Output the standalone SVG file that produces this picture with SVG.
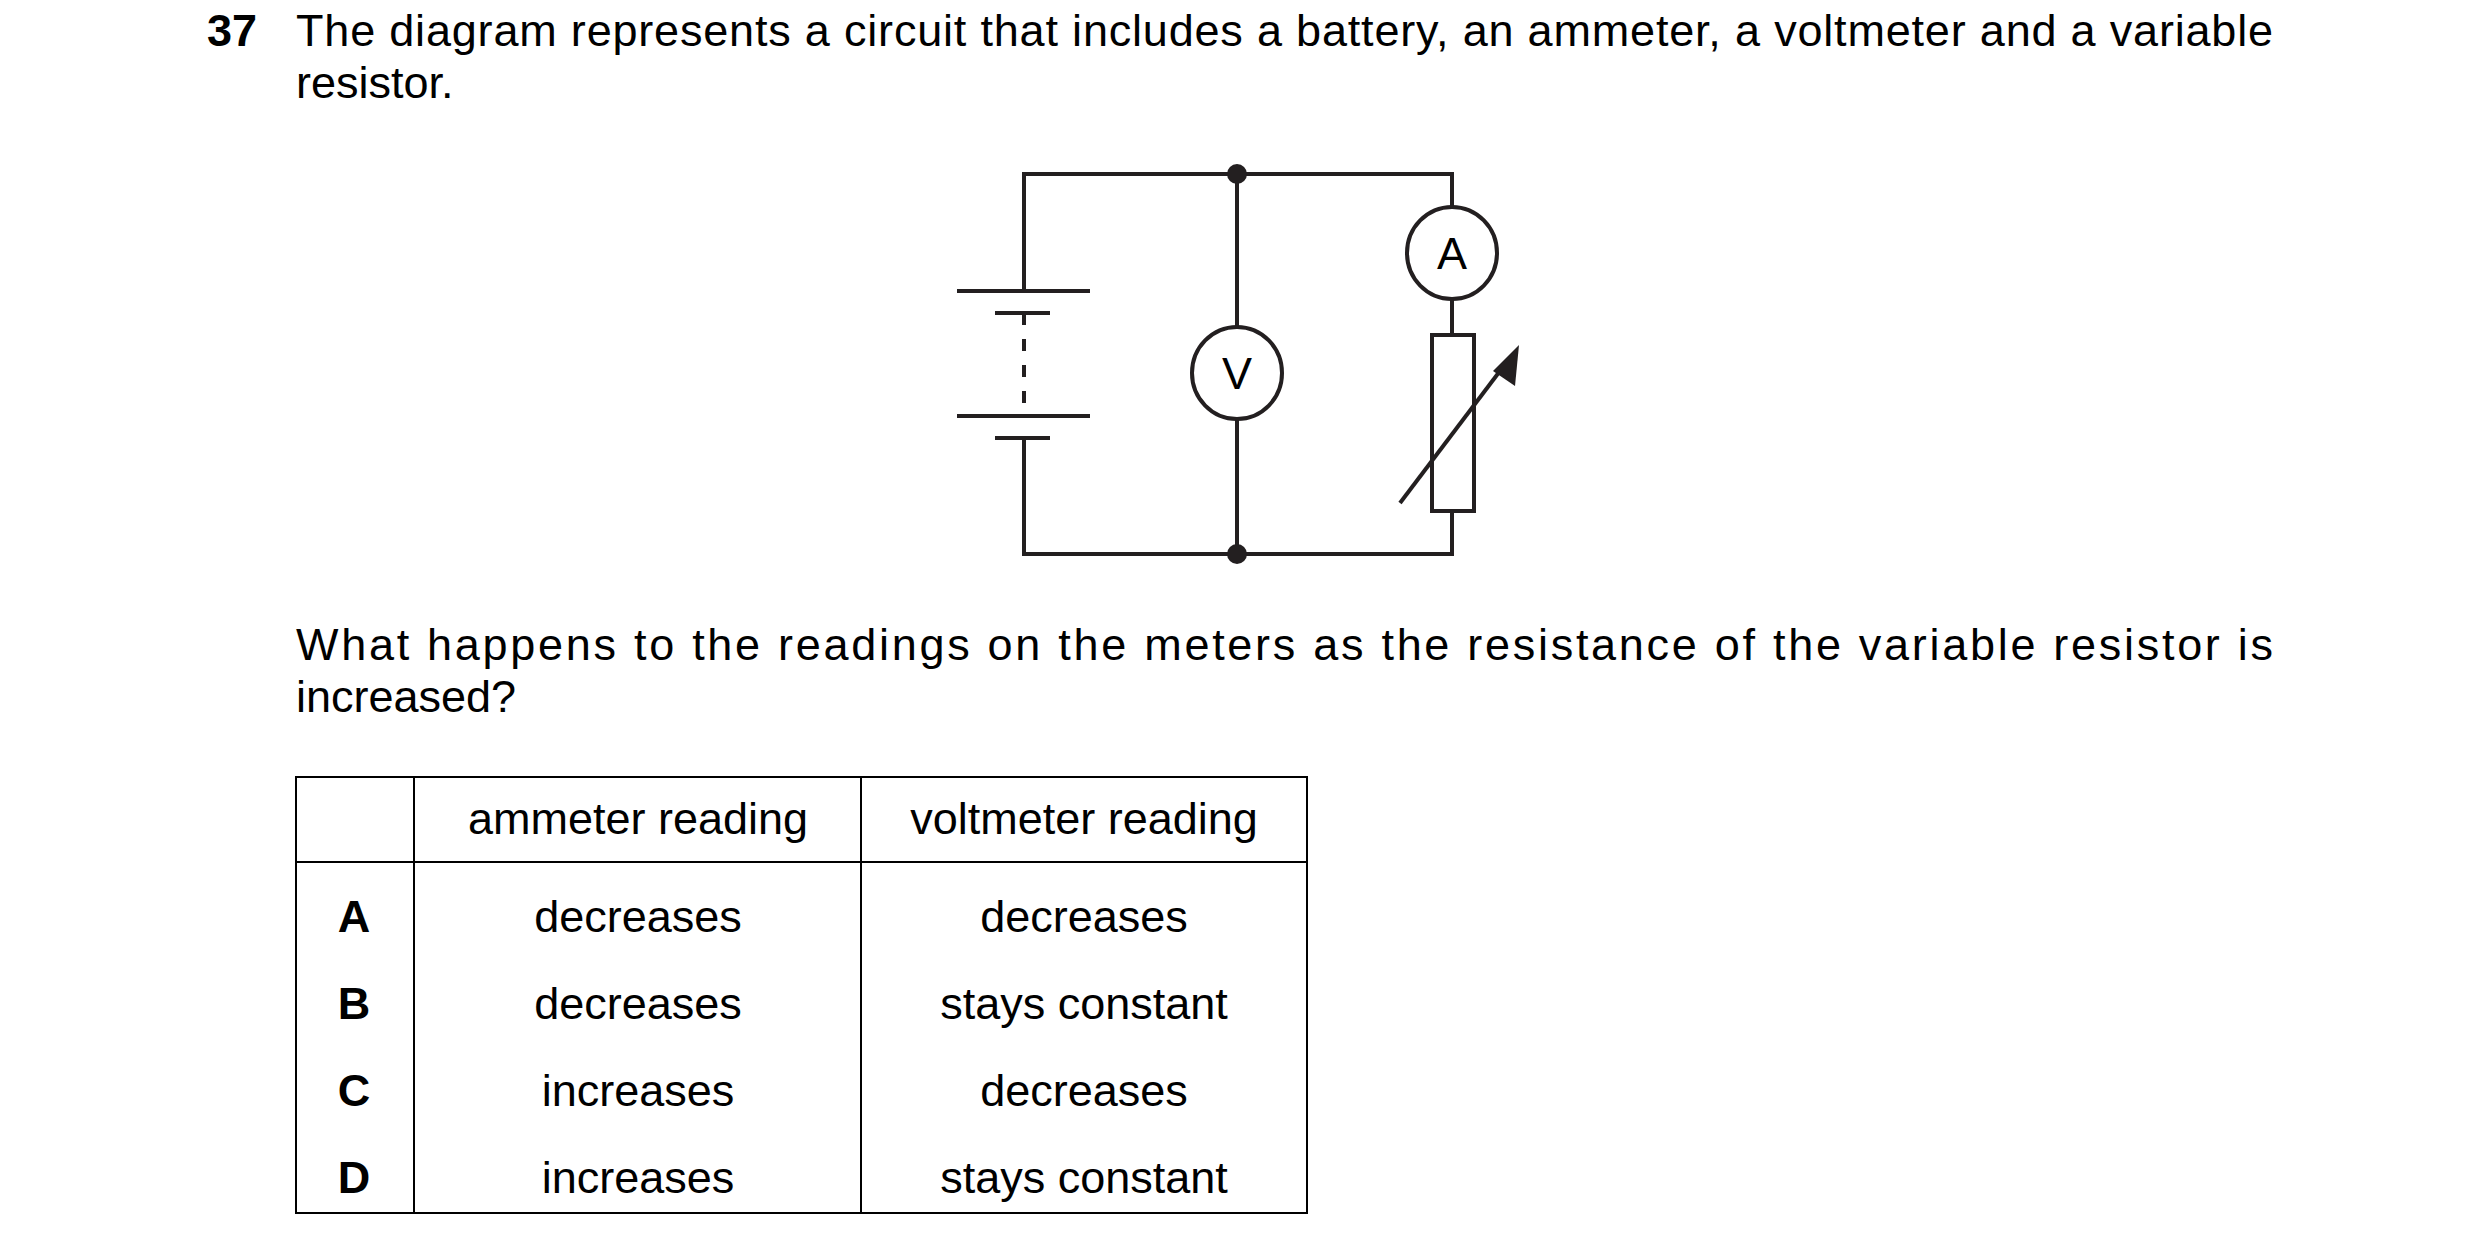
<svg xmlns="http://www.w3.org/2000/svg" width="2480" height="1255" viewBox="0 0 2480 1255">
<style>
text{font-family:"Liberation Sans",Arial,sans-serif;font-size:45px;fill:#000}
.b{font-weight:bold}
.c{text-anchor:middle}
.w{stroke:#231f20;stroke-width:4;fill:none}
.t{stroke:#000;stroke-width:2;fill:none}
</style>
<rect width="2480" height="1255" fill="#fff"/>
<g id="question">
<text x="207" y="46" class="b">37</text>
<text x="296" y="46" textLength="1977" lengthAdjust="spacing">The diagram represents a circuit that includes a battery, an ammeter, a voltmeter and a variable</text>
<text x="296" y="98">resistor.</text>
<text x="296" y="660" textLength="1977" lengthAdjust="spacing">What happens to the readings on the meters as the resistance of the variable resistor is</text>
<text x="296" y="712">increased?</text>
</g>
<g id="connectors">
<path class="w" d="M1024 291 V174 H1452 V207 M1452 299 V335 M1452 511 V554 H1024 V438 M1237 174 V327 M1237 419 V554"/>
<path class="w" d="M1024 313 V416" stroke-dasharray="12 14"/>
</g>
<g id="battery">
<path class="w" d="M957 291 H1090 M995 313 H1050 M957 416 H1090 M995 438 H1050"/>
</g>
<g id="junctions">
<circle cx="1237" cy="174" r="10" fill="#231f20"/>
<circle cx="1237" cy="554" r="10" fill="#231f20"/>
</g>
<g id="voltmeter">
<ellipse cx="1237" cy="373" rx="45" ry="46" class="w"/>
<text x="1237" y="389" class="c">V</text>
</g>
<g id="ammeter">
<ellipse cx="1452" cy="253" rx="45" ry="46" class="w"/>
<text x="1452" y="269" class="c">A</text>
</g>
<g id="resistor">
<rect x="1432" y="335" width="42" height="176" class="w"/>
<path class="w" d="M1400 503 L1506 363"/>
<polygon points="1519,345 1515,386 1493,371" fill="#231f20"/>
</g>
<g id="table">
<rect x="296" y="777" width="1011" height="436" class="t"/>
<path class="t" d="M414 777 V1213 M861 777 V1213 M296 862 H1307"/>
<text x="638" y="834" class="c">ammeter reading</text>
<text x="1084" y="834" class="c">voltmeter reading</text>
<text x="354" y="932" class="c b">A</text>
<text x="354" y="1019" class="c b">B</text>
<text x="354" y="1106" class="c b">C</text>
<text x="354" y="1193" class="c b">D</text>
<text x="638" y="932" class="c">decreases</text>
<text x="638" y="1019" class="c">decreases</text>
<text x="638" y="1106" class="c">increases</text>
<text x="638" y="1193" class="c">increases</text>
<text x="1084" y="932" class="c">decreases</text>
<text x="1084" y="1019" class="c">stays constant</text>
<text x="1084" y="1106" class="c">decreases</text>
<text x="1084" y="1193" class="c">stays constant</text>
</g>
</svg>
